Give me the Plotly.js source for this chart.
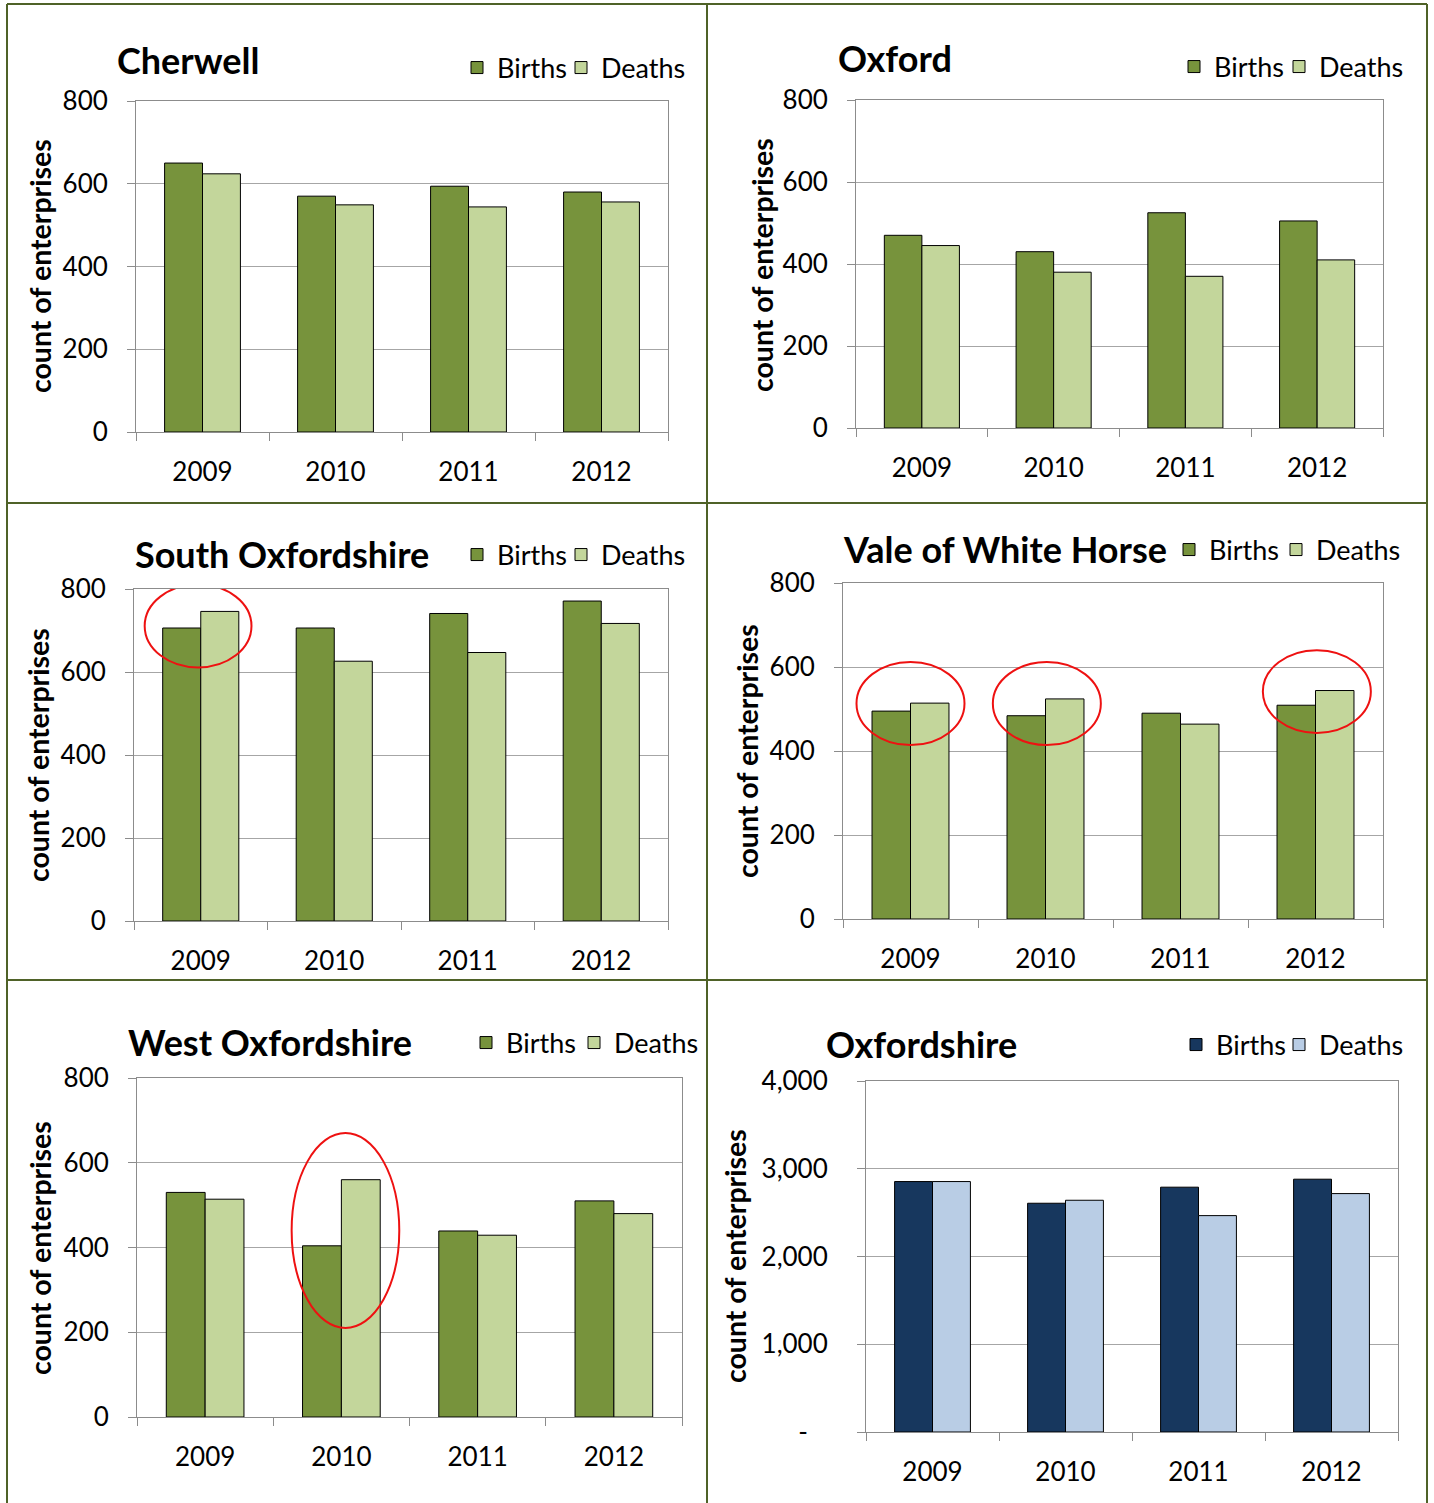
<!DOCTYPE html>
<html>
<head>
<meta charset="utf-8">
<script src="https://cdn.plot.ly/plotly-3.0.1.min.js"></script>
<style>html,body{margin:0;padding:0;background:#fff;}#chart{width:1434px;height:1503px;}</style>
</head>
<body>
<div id="chart"></div>
<script>
// ---- data ----
var years = ['2009', '2010', '2011', '2012'];
var panelNames = ['Cherwell', 'Oxford', 'South Oxfordshire', 'Vale of White Horse', 'West Oxfordshire', 'Oxfordshire'];
var seriesNames = ['Births', 'Deaths'];
var cherwellBirths = [650, 570, 594, 580];
var cherwellDeaths = [624, 549, 544, 556];
var oxfordBirths = [470, 430, 525, 505];
var oxfordDeaths = [445, 380, 370, 410];
var southBirths = [706, 706, 741, 771];
var southDeaths = [746, 626, 647, 717];
var valeBirths = [495, 484, 490, 509];
var valeDeaths = [514, 524, 464, 544];
var westBirths = [530, 404, 439, 510];
var westDeaths = [514, 560, 429, 480];
var oxonBirths = [2854, 2607, 2790, 2881];
var oxonDeaths = [2854, 2641, 2466, 2717];
var districtTickVals = [0, 200, 400, 600, 800];
var districtTickText = ['0', '200', '400', '600', '800'];
var countyTickVals = [0, 1000, 2000, 3000, 4000];
var countyTickText = ['-\u00a0\u00a0\u00a0', '1,000', '2,000', '3,000', '4,000'];
var yTitle = 'count of enterprises';

// ---- layout helpers ----
var W = 1434, H = 1503;
function X(px) { return px / W; }
function Y(py) { return 1 - py / H; }
var FONT = 'Lato, "Open Sans", sans-serif';
var greenB = '#77933C', greenD = '#C3D69B', blueB = '#17375E', blueD = '#B9CDE5';

// px: plot x-range, py: plot y-range, title: left/centre, legB/legD: legend text start x, legY: centre y
var panels = [
  {b: cherwellBirths, d: cherwellDeaths, px: [136, 668], py: [101, 432], title: [115, 60], legB: 498, legD: 602, legY: 68, yt: [40, 266], county: false},
  {b: oxfordBirths, d: oxfordDeaths, px: [856, 1383], py: [100, 428], title: [836, 58], legB: 1215, legD: 1320, legY: 67, yt: [762, 265], county: false},
  {b: southBirths, d: southDeaths, px: [134, 668], py: [589, 921], title: [133, 554], legB: 498, legD: 602, legY: 555, yt: [38, 755], county: false},
  {b: valeBirths, d: valeDeaths, px: [843, 1383], py: [583, 919], title: [841, 549], legB: 1210, legD: 1317, legY: 550, yt: [747, 751], county: false},
  {b: westBirths, d: westDeaths, px: [137, 682], py: [1078, 1417], title: [126, 1042], legB: 507, legD: 615, legY: 1043, yt: [40, 1248], county: false},
  {b: oxonBirths, d: oxonDeaths, px: [866, 1398], py: [1081, 1432], title: [824, 1044], legB: 1217, legD: 1320, legY: 1045, yt: [735, 1256], county: true}
];

var data = [];
var layout = {
  width: W, height: H,
  margin: {l: 0, r: 0, t: 0, b: 0},
  paper_bgcolor: '#ffffff', plot_bgcolor: '#ffffff',
  bargap: 0.43, bargroupgap: 0, barmode: 'group',
  showlegend: true,
  font: {family: FONT, color: '#000'},
  annotations: [], shapes: []
};

function addLegend(id, textX, cy) {
  layout[id] = {
    orientation: 'h', x: X(textX - 41), y: Y(cy), xanchor: 'left', yanchor: 'middle',
    bgcolor: 'rgba(0,0,0,0)', font: {family: FONT, size: 27, color: '#000'},
    traceorder: 'normal', itemclick: false, itemdoubleclick: false
  };
}

panels.forEach(function (p, i) {
  var n = i === 0 ? '' : String(i + 1);
  var xa = 'x' + n, ya = 'y' + n;
  var lgB = 'legend' + (i === 0 ? '' : String(i + 1));
  var lgD = 'legend' + String(i + 7);
  var cB = p.county ? blueB : greenB, cD = p.county ? blueD : greenD;
  data.push({type: 'bar', x: years, y: p.b, name: seriesNames[0], xaxis: xa, yaxis: ya, legend: lgB,
    marker: {color: cB, line: {color: '#000', width: 1}}, hoverinfo: 'y'});
  data.push({type: 'bar', x: years, y: p.d, name: seriesNames[1], xaxis: xa, yaxis: ya, legend: lgD,
    marker: {color: cD, line: {color: '#000', width: 1}}, hoverinfo: 'y'});
  layout['xaxis' + n] = {
    domain: [X(p.px[0]), X(p.px[1])], anchor: ya, type: 'category',
    tickson: 'boundaries', ticks: 'outside', ticklen: 8, tickcolor: '#8c8c8c', tickwidth: 1,
    showline: true, linecolor: '#8c8c8c', linewidth: 1, mirror: true,
    showgrid: false, zeroline: false, fixedrange: true,
    tickfont: {family: FONT, size: 26, color: '#000'}, ticklabelstandoff: 17
  };
  layout['yaxis' + n] = {
    domain: [Y(p.py[1]), Y(p.py[0])], anchor: xa,
    range: [0, p.county ? 4000 : 800],
    tickmode: 'array', tickvals: p.county ? countyTickVals : districtTickVals,
    ticktext: p.county ? countyTickText : districtTickText,
    ticks: 'outside', ticklen: 8, tickcolor: '#8c8c8c', tickwidth: 1,
    showline: true, linecolor: '#8c8c8c', linewidth: 1, mirror: true,
    showgrid: true, gridcolor: '#a6a6a6', gridwidth: 1, zeroline: false, fixedrange: true,
    tickfont: {family: FONT, size: 26, color: '#000'}, ticklabelstandoff: p.county ? 24 : 14
  };
  addLegend(lgB, p.legB, p.legY);
  addLegend(lgD, p.legD, p.legY);
  layout.annotations.push({
    text: '<b>' + panelNames[i] + '</b>', xref: 'paper', yref: 'paper',
    x: X(p.title[0]), y: Y(p.title[1]), xanchor: 'left', yanchor: 'middle', showarrow: false,
    font: {family: FONT, size: 36, color: '#000'}
  });
  layout.annotations.push({
    text: '<b>' + yTitle + '</b>', xref: 'paper', yref: 'paper', textangle: -90,
    x: X(p.yt[0]), y: Y(p.yt[1]), xanchor: 'center', yanchor: 'middle', showarrow: false,
    font: {family: FONT, size: 28.5, color: '#000'}
  });
});

// red highlight ellipses (annotation, in axis coordinates)
var red = {color: '#ee1111', width: 2};
layout.shapes.push({type: 'circle', xref: 'x3', yref: 'y3', x0: -0.42, x1: 0.38, y0: 611, y1: 811, line: red});
layout.shapes.push({type: 'circle', xref: 'x4', yref: 'y4', x0: -0.4, x1: 0.4, y0: 414, y1: 612, line: red});
layout.shapes.push({type: 'circle', xref: 'x4', yref: 'y4', x0: 0.61, x1: 1.41, y0: 414, y1: 612, line: red});
layout.shapes.push({type: 'circle', xref: 'x4', yref: 'y4', x0: 2.61, x1: 3.41, y0: 443, y1: 640, line: red});
layout.shapes.push({type: 'circle', xref: 'x5', yref: 'y5', x0: 0.635, x1: 1.425, y0: 210, y1: 670, line: red});

// panel frame lines
var frame = {color: '#4F6228', width: 2};
function pline(x0, y0, x1, y1) {
  layout.shapes.push({type: 'line', xref: 'paper', yref: 'paper', x0: X(x0), y0: Y(y0), x1: X(x1), y1: Y(y1), line: frame, layer: 'above'});
}
pline(7, 4, 1427, 4);
pline(7, 4, 7, 1503);
pline(1427, 4, 1427, 1503);
pline(707, 4, 707, 1503);
pline(7, 503, 1427, 503);
pline(7, 980, 1427, 980);

Plotly.newPlot('chart', data, layout, {displayModeBar: false, staticPlot: true});
</script>
</body>
</html>
